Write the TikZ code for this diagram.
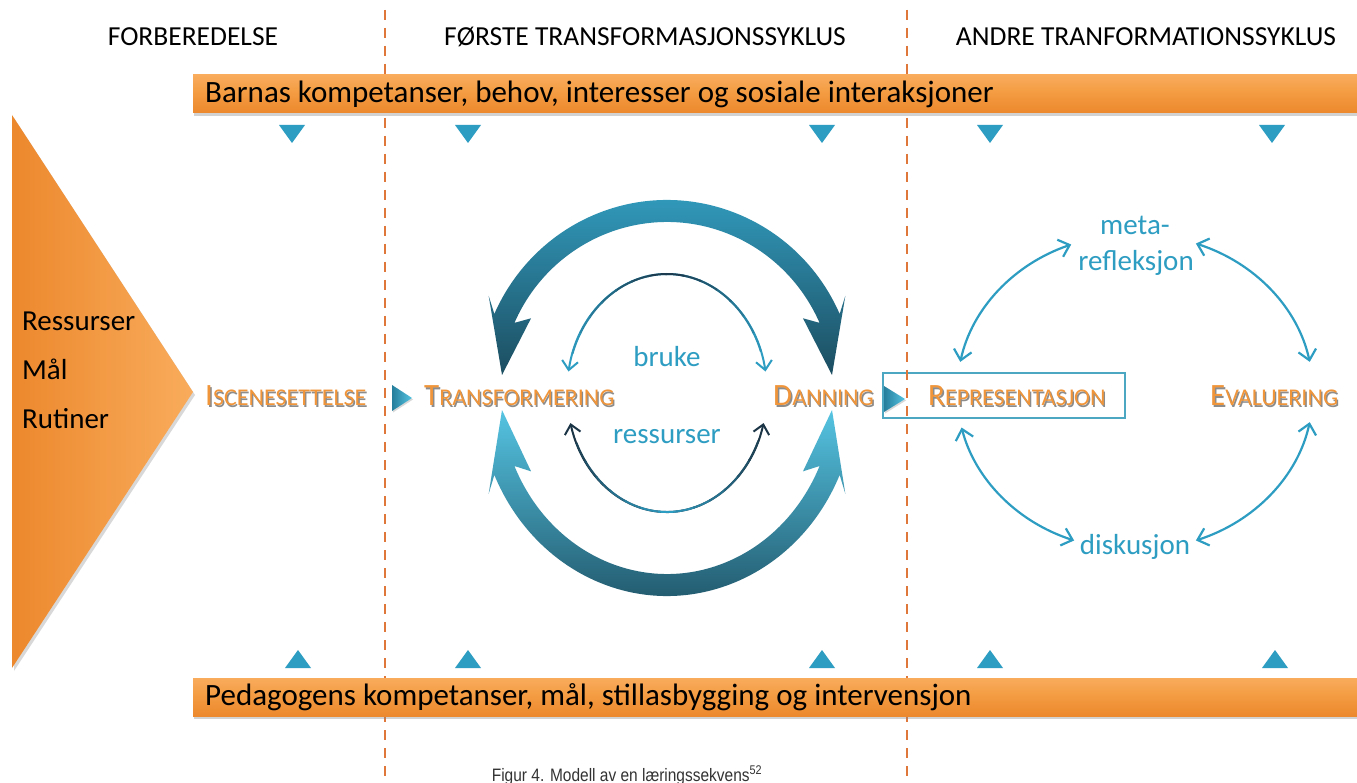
\documentclass[tikz,border=0pt]{standalone}
\usepackage{fontspec}
\setmainfont{Carlito}
\newfontfamily\capfont{Liberation Sans}
\usetikzlibrary{arrows.meta,shadows,calc}
\definecolor{orA}{HTML}{F9AC5C}
\definecolor{orM}{HTML}{F39A40}
\definecolor{orB}{HTML}{EC882D}
\definecolor{orT}{HTML}{F0953A}
\definecolor{dashc}{HTML}{E0773A}
\definecolor{tl}{HTML}{2E9DC2}
\definecolor{tlight}{HTML}{55C4E2}
\definecolor{tdark}{HTML}{1C4D60}
\definecolor{navy}{HTML}{1B3446}
\definecolor{boxc}{HTML}{4BA7C2}
\newcommand\mysc[2]{{\fontsize{31}{31}\selectfont #1}{\fontsize{24}{24}\selectfont #2}}
\tikzset{
  hdr/.style={anchor=base,inner sep=0pt,font=\fontsize{27.5}{27.5}\selectfont},
  bartext/.style={anchor=base west,inner sep=0pt,font=\fontsize{31}{31}\selectfont},
  sidetext/.style={anchor=base west,inner sep=0pt,font=\fontsize{29}{29}\selectfont},
  lbl/.style={anchor=base west,inner sep=0pt,text=orT},
  lblshadow/.style={anchor=base west,inner sep=0pt,text=black!45},
  tealtext/.style={inner sep=0pt,text=tl,font=\fontsize{29}{29}\selectfont},
  orbar/.style={top color=orA,bottom color=orB,middle color=orM,
    drop shadow={shadow xshift=1pt,shadow yshift=-3pt,opacity=.35}},
  downtri/.style={fill=tl},
  playtri/.style={left color=tl!80!black,right color=tlight,
    drop shadow={shadow xshift=1pt,shadow yshift=-1.5pt,opacity=.3}},
  dashline/.style={dashc,line width=2pt,dash pattern=on 10pt off 8pt},
  thinarr/.style={line width=2.2pt,{Straight Barb[length=10pt,width=18pt]}-{Straight Barb[length=10pt,width=18pt]}},
  innerarr/.style={line width=2pt,{Straight Barb[length=9pt,width=16pt]}-{Straight Barb[length=9pt,width=16pt]}}
}
\begin{document}
\begin{tikzpicture}[x=1pt,y=1pt]
\useasboundingbox (0,0) rectangle (1357,-783);
\fill[white] (0,0) rectangle (1357,-783);

% big orange triangle
\path[left color=orB,right color=orA,drop shadow={shadow xshift=2pt,shadow yshift=-3pt,opacity=.3}]
  (12,-115) -- (193,-392) -- (12,-668) -- cycle;
\node[sidetext] (res) at (22,-331) {Ressurser};
\node[sidetext] (maal) at (22,-379) {Mål};
\node[sidetext] (rut) at (22,-428) {Rutiner};

% representation box
\node[draw=boxc,line width=1.5pt,minimum width=242pt,minimum height=45pt,inner sep=0pt] (repbox) at (1004,-395.5) {};

% play triangles
\path[playtri] (392,-385) -- (412,-398) -- (392,-411) -- cycle;
\path[playtri] (884,-386) -- (905,-399) -- (884,-412) -- cycle;

% dashed separators
\draw[dashline] (385,-10) -- (385,-783);
\draw[dashline] (907,-10) -- (907,-783);

% headers
\node[hdr] (h1) at (193,-46) {FORBEREDELSE};
\node[hdr] (h2) at (645,-46) {FØRSTE TRANSFORMASJONSSYKLUS};
\node[hdr] (h3) at (1146,-46) {ANDRE TRANFORMATIONSSYKLUS};

% bars
\path[orbar] (193,-75) rectangle (1357,-113);
\node[bartext] (topbar) at (205,-103) {Barnas kompetanser, behov, interesser og sosiale interaksjoner};
\path[orbar] (193,-678) rectangle (1357,-716);
\node[bartext] (botbar) at (205,-705) {Pedagogens kompetanser, mål, stillasbygging og intervensjon};

% small triangles
\foreach \x in {292,468,822,990,1272}{
  \fill[downtri] (\x-13,-125) -- (\x+13,-125) -- (\x,-143) -- cycle;}
\foreach \x in {298,468,822,990,1275}{
  \fill[downtri] (\x-13,-668) -- (\x+13,-668) -- (\x,-650) -- cycle;}

% middle cycle
\begin{scope}[shift={(667,-392)}]
  \path[top color=tl!85!tlight,bottom color=tdark]
    (24:189 and 192) arc[start angle=24,end angle=156,x radius=189,y radius=192]
    -- (152:202 and 205) -- (-165,17) -- (152:154 and 157) -- (156:167 and 170)
    arc[start angle=156,end angle=24,x radius=167,y radius=170]
    -- (28:154 and 157) -- (165,17) -- (28:202 and 205) -- cycle;
  \path[top color=tlight,bottom color=tdark]
    (-24:189 and 204) arc[start angle=-24,end angle=-156,x radius=189,y radius=204]
    -- (-152:202 and 217) -- (-165,-18) -- (-152:154 and 169) -- (-156:167 and 182)
    arc[start angle=-156,end angle=-24,x radius=167,y radius=182]
    -- (-28:154 and 169) -- (165,-18) -- (-28:202 and 217) -- cycle;
  % inner thin arrows
  \draw[tl,innerarr] (170:100 and 118) arc[start angle=170,end angle=10,x radius=100,y radius=118];
  \foreach \a in {20,30,...,150}{
    \pgfmathtruncatemacro\p{100*abs(\a+5-90)/70}
    \draw[tl!\p!navy,line width=2pt] (\a:100 and 118) arc[start angle=\a,end angle=\a+11,x radius=100,y radius=118];}
  \draw[navy,innerarr] (195:100 and 120) arc[start angle=195,end angle=345,x radius=100,y radius=120];
  \foreach \a in {205,215,...,325}{
    \pgfmathtruncatemacro\p{100*abs(\a+5-270)/70}
    \draw[navy!\p!tl,line width=2pt] (\a:100 and 120) arc[start angle=\a,end angle=\a+11,x radius=100,y radius=120];}
\end{scope}
\node[tealtext] (bruke) at (667,-357) {bruke};
\node[tealtext] (ress) at (667,-437) {ressurser};

% right cycle
\begin{scope}[shift={(1135,-392)}]
  \draw[tl,thinarr] (111:178 and 158) arc[start angle=111,end angle=169,x radius=178,y radius=158];
  \draw[tl,thinarr] (193:178 and 158) arc[start angle=193,end angle=250,x radius=178,y radius=158];
  \draw[tl,thinarr] (290:178 and 158) arc[start angle=290,end angle=349,x radius=178,y radius=158];
  \draw[tl,thinarr] (11:178 and 158) arc[start angle=11,end angle=70,x radius=178,y radius=158];
\end{scope}
\node[tealtext] (meta) at (1135,-225) {meta-};
\node[tealtext] (refl) at (1136,-263) {refleksjon};
\node[tealtext] (disk) at (1135,-547) {diskusjon};

% orange small-caps labels with shadow
\node[lblshadow] (isc-s) at (206.3,-407.3) {\mysc{I}{SCENESETTELSE}};
\node[lbl] (isc) at (205,-406) {\mysc{I}{SCENESETTELSE}};
\node[lblshadow] (tra-s) at (425.3,-407.3) {\mysc{T}{RANSFORMERING}};
\node[lbl] (tra) at (424,-406) {\mysc{T}{RANSFORMERING}};
\node[lblshadow] (dan-s) at (774.3,-407.3) {\mysc{D}{ANNING}};
\node[lbl] (dan) at (773,-406) {\mysc{D}{ANNING}};
\node[lblshadow] (rep-s) at (929.3,-407.3) {\mysc{R}{EPRESENTASJON}};
\node[lbl] (rep) at (928,-406) {\mysc{R}{EPRESENTASJON}};
\node[lblshadow] (eva-s) at (1211.3,-407.3) {\mysc{E}{VALUERING}};
\node[lbl] (eva) at (1210,-406) {\mysc{E}{VALUERING}};

% caption
\node[anchor=base,inner sep=0pt,text=black!80,font=\capfont\fontsize{18}{18}\selectfont] (cap) at (627,-781)
  {\scalebox{0.86}[1]{Figur 4. Modell av en læringssekvens\textsuperscript{52}}};
\end{tikzpicture}
\end{document}
